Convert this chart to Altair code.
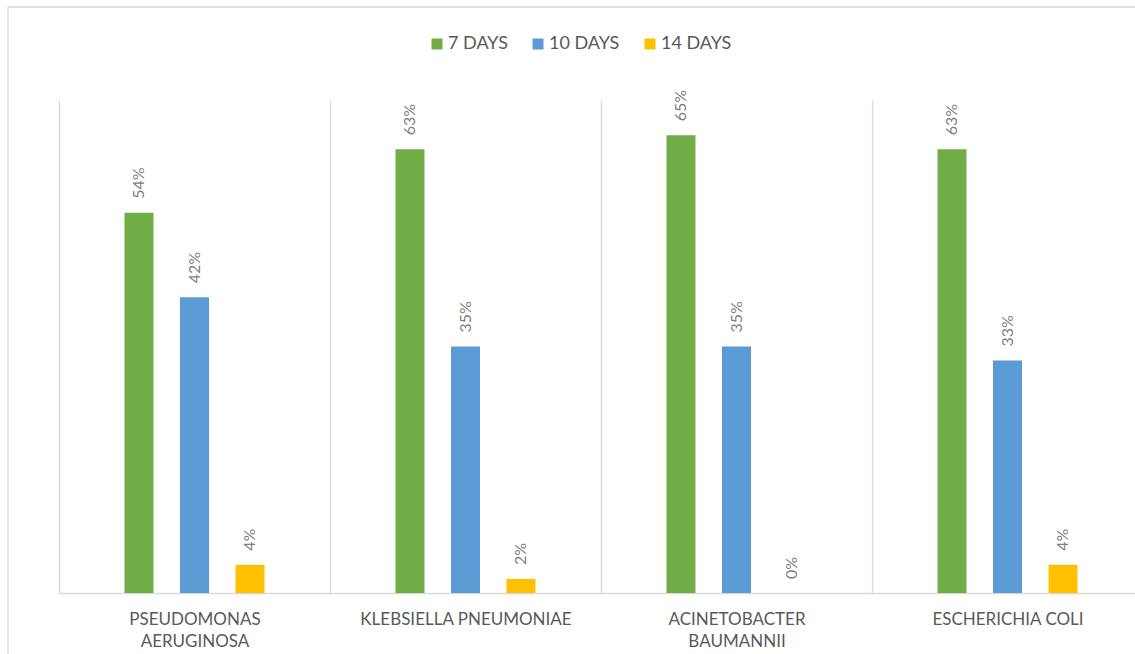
import altair as alt
import pandas as pd

categories = ["PSEUDOMONAS AERUGINOSA", "KLEBSIELLA PNEUMONIAE", "ACINETOBACTER BAUMANNII", "ESCHERICHIA COLI"]
series = ["7 DAYS", "10 DAYS", "14 DAYS"]
values_7 = [54, 63, 65, 63]
values_10 = [42, 35, 35, 33]
values_14 = [4, 2, 0, 4]
colors = ["#70ad47", "#5b9bd5", "#ffc000"]

rows = []
for s, vals in zip(series, [values_7, values_10, values_14]):
    for c, v in zip(categories, vals):
        rows.append({"category": c, "series": s, "value": v, "label": f"{v}%"})
df = pd.DataFrame(rows)

FONT = "Lato"
offset_domain = ["_left"] + series + ["_right"]

x_enc = alt.X("category:N", sort=categories,
              scale=alt.Scale(paddingInner=0, paddingOuter=0, range=[0, 1084]),
              axis=alt.Axis(title=None, labelAngle=0, ticks=False,
                            domainColor="#d9d9d9", domainWidth=1.5,
                            grid=True, gridColor="#d9d9d9", gridWidth=1.3,
                            tickBand="extent", labelLimit=0,
                            labelFont=FONT, labelFontSize=17, labelColor="#595959",
                            labelPadding=18, labelLineHeight=22, labelBaseline="top",
                            labelExpr="datum.value == 'PSEUDOMONAS AERUGINOSA' ? ['PSEUDOMONAS','AERUGINOSA'] : datum.value == 'ACINETOBACTER BAUMANNII' ? ['ACINETOBACTER','BAUMANNII'] : datum.value"))
xoff = alt.XOffset("series:N",
                   scale=alt.Scale(domain=offset_domain, paddingInner=0.4775, paddingOuter=0.18))
y_enc = alt.Y("value:Q", scale=alt.Scale(domain=[0, 70], nice=False, zero=True), axis=None)

bars = alt.Chart(df).mark_bar().encode(
    x=x_enc, xOffset=xoff, y=y_enc,
    color=alt.Color("series:N", sort=series,
                    scale=alt.Scale(domain=series, range=colors),
                    legend=alt.Legend(title=None, orient="none", direction="horizontal",
                                      legendX=369, legendY=-65,
                                      symbolType="square", symbolSize=121,
                                      symbolStrokeWidth=0,
                                      labelFont=FONT, labelFontSize=18, labelColor="#595959",
                                      labelOffset=2, columnPadding=21)),
)

texts = alt.Chart(df).mark_text(angle=270, align="left", baseline="middle", dx=14,
                                font=FONT, fontSize=16, color="#7f7f7f").encode(
    x=alt.X("category:N", sort=categories), xOffset=alt.XOffset("series:N"),
    y=alt.Y("value:Q"), text="label:N")

frame_data = alt.Data(values=[{"a": 1}])
frame_top = alt.Chart(frame_data).mark_rule(color="#d9d9d9", strokeWidth=1.3).encode(
    x=alt.value(-51), x2=alt.value(1200), y=alt.value(-93))
frame_left = alt.Chart(frame_data).mark_rule(color="#d9d9d9", strokeWidth=1.3).encode(
    x=alt.value(-51), y=alt.value(-93), y2=alt.value(700))

chart = alt.layer(frame_top, frame_left, bars, texts).properties(
    width=1076, height=493,
    autosize=alt.AutoSizeParams(type="none"),
    padding={"left": 59, "top": 100, "right": 0, "bottom": 61},
    background="white",
).configure_view(stroke=None)

chart.save("out.html", embed_options={"renderer": "svg", "actions": False})
